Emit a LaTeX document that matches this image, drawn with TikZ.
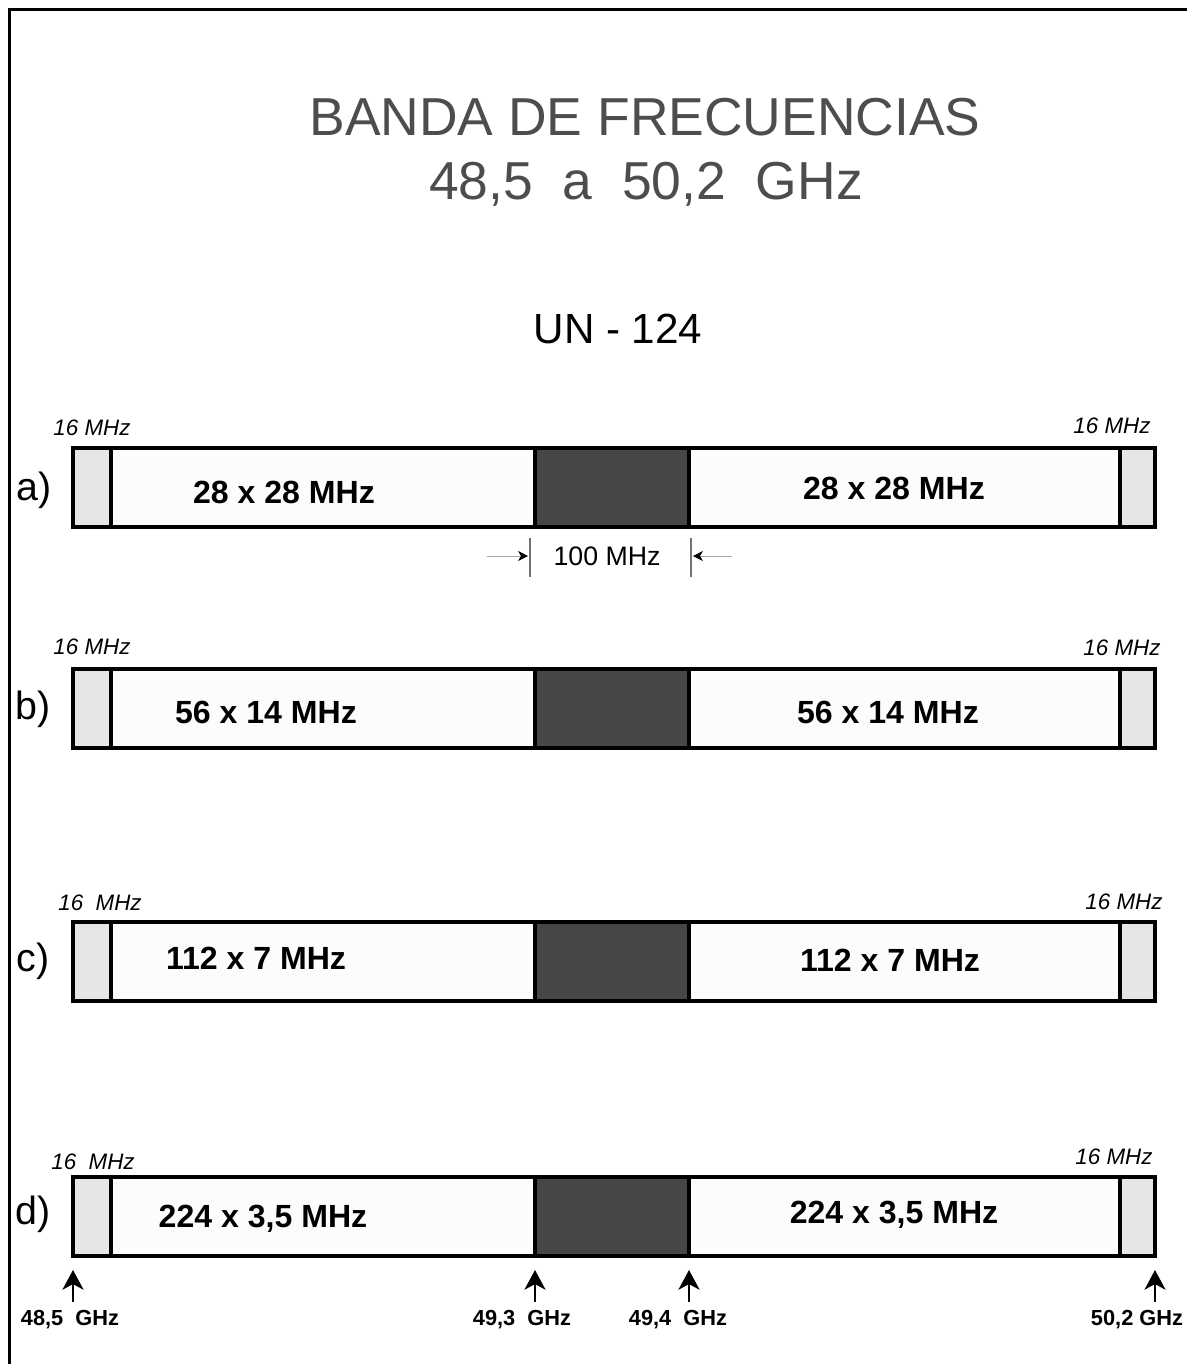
\documentclass[tikz,border=0pt]{standalone}
\usepackage{fontspec}
\setmainfont{Liberation Sans}
\usetikzlibrary{arrows.meta,positioning}
\definecolor{titlegray}{HTML}{4D4D4D}
\definecolor{guardgray}{HTML}{E6E6E6}
\definecolor{bandwhite}{HTML}{FCFCFC}
\definecolor{darkband}{HTML}{464646}
\begin{document}
\begin{tikzpicture}[x=0.025cm, y=-0.025cm,
    band/.style={draw=black, line width=2.8pt, fill=bandwhite},
    guard/.style={draw=black, line width=2.8pt, fill=guardgray},
    midband/.style={draw=black, line width=2.8pt, fill=darkband},
    rowlab/.style={font=\fontsize{28}{30}\selectfont},
    chan/.style={font=\bfseries\fontsize{22.8}{24}\selectfont},
    gaplab/.style={font=\itshape\fontsize{15.9}{17}\selectfont},
    freq/.style={font=\bfseries\fontsize{15.5}{17}\selectfont},
    uparrow/.style={line width=1.4pt, -{Stealth[length=14pt, width=15pt, inset=4pt]}},
    dimline/.style={draw=black!55, line width=0.8pt},
    dimarrow/.style={draw=black!35, line width=0.6pt, -{Stealth[length=7pt, width=7pt, inset=2pt, black]}}]
    \useasboundingbox (0,0) rectangle (1187,1364);
    \draw[line width=2.2pt] (9.5,1364) -- (9.5,9.5) -- (1187,9.5);
    % title
    \node[text=titlegray, font=\fontsize{38}{40}\selectfont] (title) at (645,117) {BANDA DE FRECUENCIAS};
    \node[text=titlegray, font=\fontsize{38}{40}\selectfont] (range) at (646,184) {48,5~~a~~50,2~~GHz};
    \node[font=\fontsize{30}{32}\selectfont] (un) at (618,329) {UN - 124};
    % the four bands
    \foreach \r/\y in {a/448,b/669,c/922,d/1177} {
        \draw[band] (73,\y) rectangle (1155,\y+79);
        \draw[guard] (73,\y) rectangle (111,\y+79);
        \draw[guard] (1120,\y) rectangle (1155,\y+79);
        \draw[midband] (535,\y) rectangle (689,\y+79);
        \coordinate (\r-ls) at (73,\y+79); \coordinate (\r-ml) at (535,\y+79);
        \coordinate (\r-mr) at (689,\y+79); \coordinate (\r-rs) at (1155,\y+79);
    }
    % row labels
    \node[rowlab] (la) at (34,490) {a)}; \node[rowlab] (lb) at (33,709) {b)};
    \node[rowlab] (lc) at (33,961) {c)}; \node[rowlab] (ld) at (33,1214) {d)};
    % channel plans
    \node[chan] (a1) at (284,492) {28 x 28 MHz}; \node[chan] (a2) at (894,488) {28 x 28 MHz};
    \node[chan] (b1) at (266,712) {56 x 14 MHz}; \node[chan] (b2) at (888,712) {56 x 14 MHz};
    \node[chan] (c1) at (256,958) {112 x 7 MHz}; \node[chan] (c2) at (890,960) {112 x 7 MHz};
    \node[chan] (d1) at (263,1219) {224 x 3,5 MHz}; \node[chan] (d2) at (894,1215) {224 x 3,5 MHz};
    % guard bands
    \node[gaplab] (ga1) at (92,428) {16 MHz}; \node[gaplab] (ga2) at (1112,426) {16 MHz};
    \node[gaplab] (gb1) at (92,647) {16 MHz}; \node[gaplab] (gb2) at (1122,648) {16 MHz};
    \node[gaplab] (gc1) at (100,903) {16~~MHz}; \node[gaplab] (gc2) at (1124,902) {16 MHz};
    \node[gaplab] (gd1) at (93,1162) {16~~MHz}; \node[gaplab] (gd2) at (1114,1157) {16 MHz};
    % 100 MHz centre gap
    \draw[dimline] (530,538) -- (530,577); \draw[dimline] (691,538) -- (691,577);
    \draw[dimarrow] (487,556) -- (528,556); \draw[dimarrow] (732,556) -- (693,556);
    \node[font=\fontsize{19}{21}\selectfont] (gap) at (607,556) {100 MHz};
    % band edges
    \foreach \c in {ls,ml,mr,rs} \draw[uparrow] ([yshift=-1.15cm]d-\c) -- ([yshift=-0.35cm]d-\c);
    \node[freq] (f1) at (70,1320) {48,5~~GHz}; \node[freq] (f2) at (522,1320) {49,3~~GHz};
    \node[freq] (f3) at (678,1320) {49,4~~GHz}; \node[freq] (f4) at (1137,1320) {50,2 GHz};
\end{tikzpicture}
\end{document}
